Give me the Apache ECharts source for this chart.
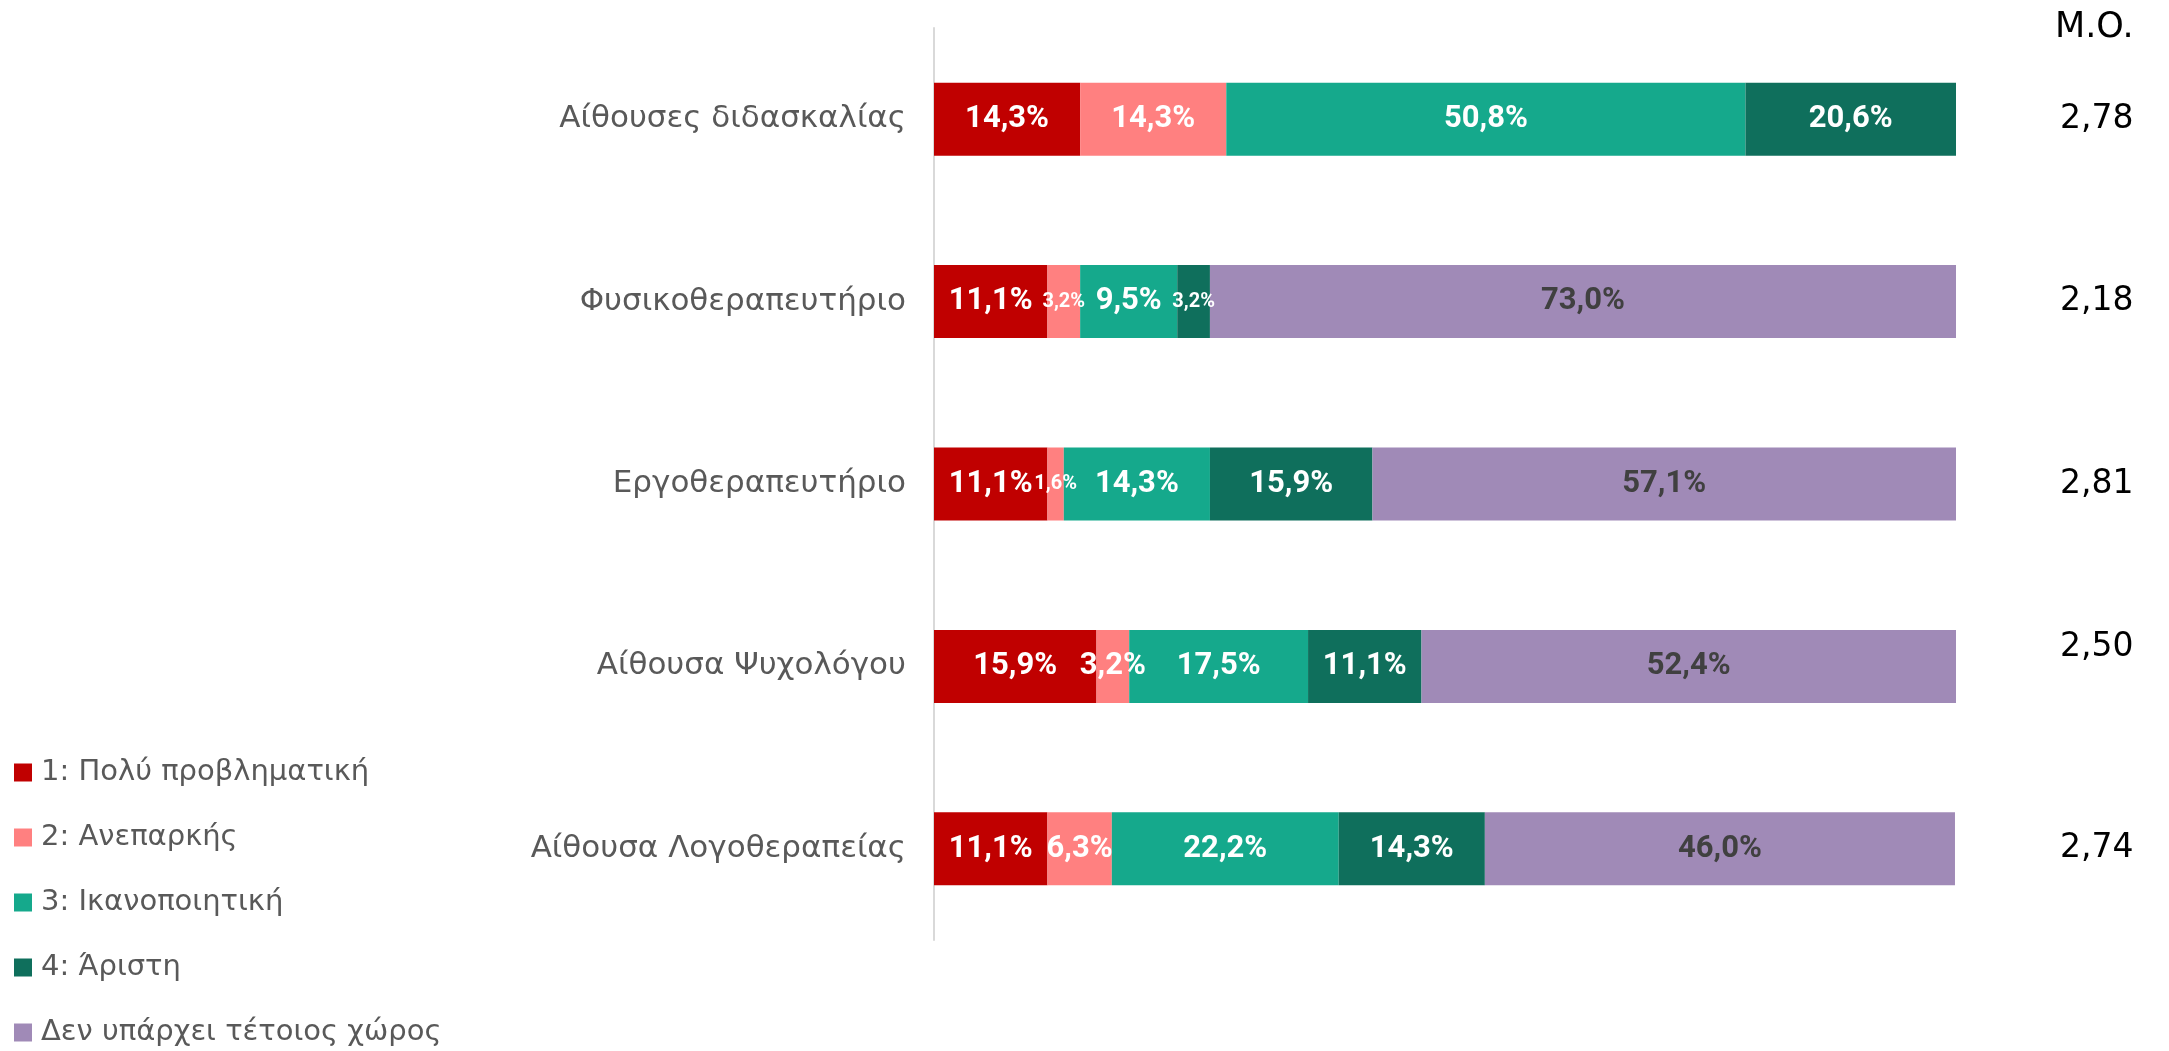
<!DOCTYPE html>
<html>
<head>
<meta charset="utf-8">
<script src="https://cdn.jsdelivr.net/npm/echarts@6/dist/echarts.min.js"></script>
<style>
  html, body { margin: 0; padding: 0; background: #fff; }
  #chart { width: 2169px; height: 1051px; }
</style>
</head>
<body>
<div id="chart"></div>
<script>
"use strict";

// Χώροι (από πάνω προς τα κάτω)
const categories = ['Αίθουσες διδασκαλίας', 'Φυσικοθεραπευτήριο', 'Εργοθεραπευτήριο', 'Αίθουσα Ψυχολόγου', 'Αίθουσα Λογοθεραπείας'];
const seriesNames = ['1: Πολύ προβληματική', '2: Ανεπαρκής', '3: Ικανοποιητική', '4: Άριστη', 'Δεν υπάρχει τέτοιος χώρος'];

// Ποσοστά ανά βαθμό (%)
const veryPoor = [14.3, 11.1, 11.1, 15.9, 11.1];
const inadequate = [14.3, 3.2, 1.6, 3.2, 6.3];
const satisfactory = [50.8, 9.5, 14.3, 17.5, 22.2];
const excellent = [20.6, 3.2, 15.9, 11.1, 14.3];
const noSpace = [0, 73.0, 57.1, 52.4, 46.0];

// Μέσος όρος (M.O.)
const meanValues = ['2,78', '2,18', '2,81', '2,50', '2,74'];

const colors = ['#C00000', '#FF8080', '#15A98C', '#0F6F5C', '#A08AB7'];
const labelColors = ['#fff', '#fff', '#fff', '#fff', '#404040'];
// κελιά με μικρή ετικέτα: [σειρά, γραμμή]
const smallLabelCells = [[1, 1], [3, 1], [1, 2]];
// ο Μ.Ο. που είναι λίγο ψηλότερα στο πρωτότυπο
const raisedMean = 3;

const allSeries = [veryPoor, inadequate, satisfactory, excellent, noSpace];

var chart = echarts.init(document.getElementById('chart'));

var series = allSeries.map(function (values, s) {
  return {
    name: seriesNames[s],
    type: 'bar',
    stack: 'total',
    barWidth: '40%',
    color: colors[s],
    data: values.map(function (v, i) {
      var small = smallLabelCells.some(function (c) { return c[0] === s && c[1] === i; });
      return small ? { value: v, label: { fontSize: 20 } } : v;
    }),
    label: {
      show: true,
      position: 'inside',
      color: labelColors[s],
      fontFamily: 'Roboto',
      fontWeight: 'bold',
      fontSize: 31,
      formatter: function (p) {
        if (!p.value) return '';
        return p.value.toFixed(1).replace('.', ',') + '%';
      }
    }
  };
});

chart.setOption({
  animation: false,
  title: {
    text: 'M.O.',
    left: 2055,
    top: 10,
    padding: 0,
    textStyle: { fontFamily: 'DejaVu Sans', fontWeight: 'normal', fontSize: 35, color: '#000' }
  },
  legend: {
    orient: 'vertical',
    left: 14,
    top: 758,
    padding: 0,
    height: 300,
    itemWidth: 18,
    itemHeight: 18,
    itemGap: 36,
    icon: 'rect',
    data: seriesNames,
    textStyle: { fontFamily: 'DejaVu Sans', fontSize: 29, color: '#595959', lineHeight: 29, padding: [0, 0, 0, 4] }
  },
  grid: {
    left: 934,
    right: 213,
    top: 28,
    bottom: 111,
    containLabel: false
  },
  xAxis: {
    type: 'value',
    min: 0,
    max: 100,
    show: false
  },
  yAxis: [{
    type: 'category',
    inverse: true,
    data: categories,
    axisLine: { show: true, lineStyle: { color: '#D9D9D9', width: 2 } },
    axisTick: { show: false },
    axisLabel: {
      margin: 28,
      fontFamily: 'DejaVu Sans',
      fontSize: 31,
      color: '#595959'
    }
  }, {
    type: 'category',
    inverse: true,
    position: 'right',
    data: meanValues,
    axisLine: { show: false },
    axisTick: { show: false },
    axisLabel: {
      margin: 104,
      fontFamily: 'DejaVu Sans',
      fontSize: 33,
      lineHeight: 38,
      color: '#000',
      formatter: function (v, i) {
        return i === raisedMean ? v + '\n ' : v;
      }
    }
  }],
  series: series
});
</script>
</body>
</html>
